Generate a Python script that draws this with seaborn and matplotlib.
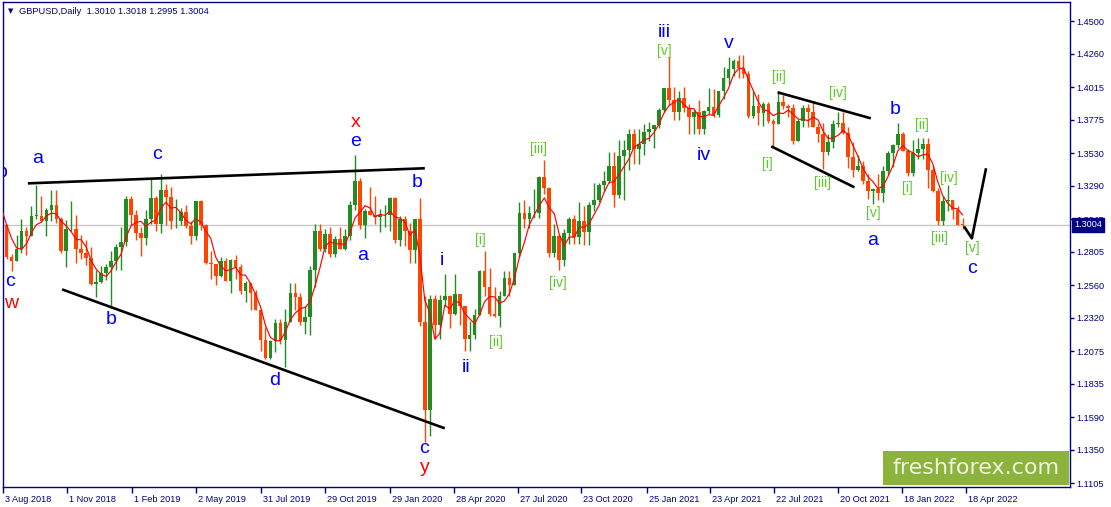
import pandas as pd
import numpy as np
import matplotlib
matplotlib.use('Agg')
import matplotlib.pyplot as plt
import matplotlib.dates as mdates
import matplotlib.transforms as mtransforms
from matplotlib.patches import Rectangle
import seaborn as sns

# GBPUSD, one bar per week (Mon 6 Aug 2018 .. Wed 13 Apr 2022), plotted mid-week
first_bar = '2018-08-08'
warmup_close = [1.3215, 1.3235, 1.3140, 1.3110, 1.3005]  # July 2018, only feeds the MA

weekly_high = [
    1.3010, 1.2790, 1.2930, 1.3045, 1.2990, 1.3145, 1.3298, 1.3215, 1.3130, 1.3260, 1.3260, 1.3060,
    1.3040, 1.3176, 1.3075, 1.2930, 1.2890, 1.2840, 1.2670, 1.2700, 1.2715,
    # 2019
    1.2815, 1.2865, 1.2990, 1.3215, 1.3215, 1.3110, 1.2985, 1.3110, 1.3350, 1.3215, 1.3380, 1.3305,
    1.3285, 1.3195, 1.3130, 1.3150, 1.3030, 1.3180, 1.3185, 1.3010, 1.2810, 1.2720, 1.2765, 1.2760,
    1.2755, 1.2785, 1.2720, 1.2595, 1.2580, 1.2525, 1.2385, 1.2250, 1.2155, 1.2310, 1.2310, 1.2385,
    1.2580, 1.2580, 1.2500, 1.2410, 1.2705, 1.3012, 1.3012, 1.2975, 1.2985, 1.2920, 1.2985, 1.2975,
    1.3180, 1.3515, 1.3350, 1.3120,
    # 2020
    1.3285, 1.3215, 1.3120, 1.3150, 1.3210, 1.3210, 1.3070, 1.3070, 1.3015, 1.3045, 1.3200, 1.2480,
    1.2485, 1.2485, 1.2485, 1.2645, 1.2485, 1.2645, 1.2495, 1.2410, 1.2295, 1.2385, 1.2670, 1.2815,
    1.2690, 1.2545, 1.2520, 1.2665, 1.2665, 1.2800, 1.3170, 1.3185, 1.3140, 1.3265, 1.3365, 1.3482,
    1.3285, 1.3010, 1.2930, 1.2975, 1.3060, 1.3080, 1.3175, 1.3140, 1.3175, 1.3315, 1.3310, 1.3400,
    1.3540, 1.3540, 1.3625, 1.3625,
    # 2021
    1.3705, 1.3705, 1.3710, 1.3745, 1.3760, 1.3740, 1.3865, 1.4010, 1.4241, 1.4015, 1.3990, 1.4015,
    1.3890, 1.3850, 1.3920, 1.3845, 1.4010, 1.4000, 1.3985, 1.4165, 1.4235, 1.4220, 1.4250, 1.4250,
    1.4135, 1.3990, 1.3965, 1.3905, 1.3910, 1.3785, 1.3985, 1.3955, 1.3895, 1.3890, 1.3785, 1.3885,
    1.3890, 1.3915, 1.3750, 1.3750, 1.3675, 1.3775, 1.3834, 1.3830, 1.3725, 1.3610, 1.3515, 1.3470,
    1.3375, 1.3275, 1.3375, 1.3440, 1.3545,
    # 2022
    1.3600, 1.3749, 1.3690, 1.3560, 1.3630, 1.3640, 1.3645, 1.3645, 1.3440, 1.3275, 1.3215, 1.3300,
    1.3190, 1.3145, 1.3055,
]
weekly_low = [
    1.2755, 1.2662, 1.2740, 1.2800, 1.2785, 1.2920, 1.3050, 1.3030, 1.2920, 1.3030, 1.3015, 1.2800,
    1.2696, 1.2960, 1.2725, 1.2750, 1.2710, 1.2560, 1.2477, 1.2580, 1.2600,
    # 2019
    1.2395, 1.2670, 1.2675, 1.2850, 1.3000, 1.2890, 1.2775, 1.2855, 1.3010, 1.2960, 1.2945, 1.3005,
    1.2975, 1.2980, 1.3000, 1.2980, 1.2865, 1.2890, 1.2965, 1.2715, 1.2605, 1.2560, 1.2620, 1.2590,
    1.2505, 1.2605, 1.2495, 1.2440, 1.2380, 1.2375, 1.2080, 1.2015, 1.2015, 1.2070, 1.2130, 1.1958,
    1.2290, 1.2380, 1.2270, 1.2205, 1.2195, 1.2550, 1.2810, 1.2805, 1.2770, 1.2770, 1.2825, 1.2820,
    1.2890, 1.3110, 1.2975, 1.2905,
    # 2020
    1.3075, 1.3010, 1.2955, 1.2990, 1.2960, 1.2870, 1.2850, 1.2850, 1.2725, 1.2725, 1.2260, 1.1410,
    1.1450, 1.2165, 1.2165, 1.2405, 1.2245, 1.2345, 1.2265, 1.2075, 1.2075, 1.2165, 1.2340, 1.2480,
    1.2335, 1.2330, 1.2250, 1.2480, 1.2480, 1.2565, 1.2770, 1.2980, 1.2980, 1.3055, 1.3055, 1.3230,
    1.2765, 1.2765, 1.2676, 1.2705, 1.2865, 1.2865, 1.2865, 1.2855, 1.2855, 1.3105, 1.3170, 1.3250,
    1.3310, 1.3135, 1.3200, 1.3190,
    # 2021
    1.3410, 1.3450, 1.3450, 1.3520, 1.3620, 1.3570, 1.3715, 1.3835, 1.3885, 1.3775, 1.3775, 1.3835,
    1.3670, 1.3670, 1.3670, 1.3670, 1.3820, 1.3800, 1.3800, 1.3930, 1.4040, 1.4100, 1.4085, 1.4085,
    1.3790, 1.3790, 1.3735, 1.3730, 1.3755, 1.3572, 1.3745, 1.3855, 1.3800, 1.3600, 1.3620, 1.3725,
    1.3725, 1.3720, 1.3610, 1.3412, 1.3520, 1.3570, 1.3725, 1.3675, 1.3425, 1.3355, 1.3400, 1.3305,
    1.3195, 1.3160, 1.3190, 1.3170, 1.3380,
    # 2022
    1.3430, 1.3570, 1.3545, 1.3360, 1.3360, 1.3485, 1.3490, 1.3275, 1.3245, 1.3000, 1.3000, 1.3105,
    1.3050, 1.3000, 1.2970,
]
weekly_close = [
    1.2765, 1.2740, 1.2830, 1.2960, 1.2925, 1.3070, 1.3070, 1.3030, 1.3110, 1.3150, 1.3050, 1.2815,
    1.2970, 1.2975, 1.2830, 1.2800, 1.2760, 1.2570, 1.2585, 1.2650, 1.2695,
    # 2019
    1.2740, 1.2845, 1.2875, 1.3195, 1.3075, 1.2945, 1.2905, 1.3045, 1.3200, 1.3010, 1.3260, 1.3210,
    1.3030, 1.3030, 1.3100, 1.2995, 1.2920, 1.3180, 1.3005, 1.2725, 1.2715, 1.2625, 1.2740, 1.2590,
    1.2745, 1.2695, 1.2520, 1.2575, 1.2500, 1.2380, 1.2155, 1.2025, 1.2150, 1.2280, 1.2160, 1.2290,
    1.2500, 1.2475, 1.2290, 1.2330, 1.2670, 1.2960, 1.2830, 1.2940, 1.2790, 1.2900, 1.2830, 1.2920,
    1.3150, 1.3325, 1.3000, 1.3105,
    # 2020
    1.3080, 1.3065, 1.3075, 1.3075, 1.3205, 1.2890, 1.3045, 1.2960, 1.2820, 1.3045, 1.2290, 1.1645,
    1.2460, 1.2265, 1.2450, 1.2480, 1.2350, 1.2495, 1.2405, 1.2165, 1.2195, 1.2345, 1.2665, 1.2550,
    1.2350, 1.2335, 1.2480, 1.2615, 1.2565, 1.2795, 1.3090, 1.3050, 1.3090, 1.3090, 1.3355, 1.3275,
    1.2795, 1.2920, 1.2745, 1.2945, 1.3050, 1.2915, 1.3035, 1.2950, 1.3150, 1.3190, 1.3300, 1.3330,
    1.3440, 1.3220, 1.3510, 1.3555,
    # 2021
    1.3670, 1.3565, 1.3600, 1.3685, 1.3705, 1.3735, 1.3845, 1.4010, 1.3925, 1.3835, 1.3935, 1.3865,
    1.3800, 1.3835, 1.3710, 1.3840, 1.3870, 1.3815, 1.3985, 1.4085, 1.4150, 1.4210, 1.4160, 1.4110,
    1.3805, 1.3880, 1.3825, 1.3890, 1.3765, 1.3745, 1.3905, 1.3875, 1.3865, 1.3620, 1.3765, 1.3865,
    1.3830, 1.3725, 1.3675, 1.3540, 1.3615, 1.3745, 1.3750, 1.3680, 1.3500, 1.3410, 1.3440, 1.3330,
    1.3250, 1.3265, 1.3235, 1.3400, 1.3530,
    # 2022
    1.3590, 1.3675, 1.3550, 1.3385, 1.3530, 1.3560, 1.3595, 1.3410, 1.3255, 1.3035, 1.3180, 1.3185,
    1.3115, 1.3005, 1.3004,
]

price_ticks = [1.4500, 1.4260, 1.4015, 1.3775, 1.3530, 1.3290, 1.3045, 1.2805,
               1.2560, 1.2320, 1.2075, 1.1835, 1.1590, 1.1350, 1.1105]
date_ticks = ['2018-08-03', '2018-11-01', '2019-02-01', '2019-05-02', '2019-07-31', '2019-10-29',
              '2020-01-29', '2020-04-28', '2020-07-27', '2020-10-23', '2021-01-25', '2021-04-23',
              '2021-07-22', '2021-10-20', '2022-01-18', '2022-04-18']
date_labels = ['3 Aug 2018', '1 Nov 2018', '1 Feb 2019', '2 May 2019', '31 Jul 2019', '29 Oct 2019',
               '29 Jan 2020', '28 Apr 2020', '27 Jul 2020', '23 Oct 2020', '25 Jan 2021', '23 Apr 2021',
               '22 Jul 2021', '20 Oct 2021', '18 Jan 2022', '18 Apr 2022']

last_price = 1.3004
last_bar_text = 'GBPUSD,Daily  1.3010 1.3018 1.2995 1.3004'

# wave labels: (date, price, text)
blue_labels = [
    ('2018-08-02', 1.3390, 'b'), ('2018-09-20', 1.3493, 'a'), ('2019-03-07', 1.3522, 'c'),
    ('2018-08-13', 1.2589, 'c'), ('2019-01-02', 1.2310, 'b'), ('2019-08-20', 1.1861, 'd'),
    ('2019-12-12', 1.3618, 'e'), ('2020-03-07', 1.3317, 'b'), ('2019-12-22', 1.2780, 'a'),
    ('2020-03-17', 1.1362, 'c'), ('2020-04-11', 1.2743, 'i'), ('2020-05-15', 1.1957, 'ii'),
    ('2021-02-17', 1.4419, 'iii'), ('2021-04-14', 1.3515, 'iv'), ('2021-05-19', 1.4338, 'v'),
    ('2021-12-08', 1.2890, 'a'), ('2022-01-08', 1.3853, 'b'), ('2022-04-26', 1.2685, 'c'),
]
red_labels = [
    ('2018-08-14', 1.2427, 'w'), ('2019-12-12', 1.3758, 'x'), ('2020-03-18', 1.1222, 'y'),
]
green_labels = [
    ('2020-06-04', 1.2890, '[i]'), ('2020-06-26', 1.2141, '[ii]'), ('2020-08-25', 1.3559, '[iii]'),
    ('2020-09-21', 1.2574, '[iv]'), ('2021-02-18', 1.4280, '[v]'),
    ('2021-07-12', 1.3449, '[i]'), ('2021-07-29', 1.4088, '[ii]'), ('2021-09-28', 1.3309, '[iii]'),
    ('2021-10-20', 1.3971, '[iv]'), ('2021-12-08', 1.3089, '[v]'),
    ('2022-01-26', 1.3273, '[i]'), ('2022-02-15', 1.3736, '[ii]'), ('2022-03-11', 1.2905, '[iii]'),
    ('2022-03-25', 1.3346, '[iv]'), ('2022-04-26', 1.2832, '[v]'),
]

# hand-drawn trend lines: (dates, prices)
trend_lines = [
    (['2018-09-07', '2020-03-18'], [1.3309, 1.3420]),
    (['2018-10-25', '2020-04-15'], [1.2530, 1.1509]),
    (['2021-07-27', '2021-12-05'], [1.3978, 1.3787]),
    (['2021-07-18', '2021-11-12'], [1.3581, 1.3280]),
    (['2022-04-15', '2022-04-26', '2022-05-16'], [1.2993, 1.2905, 1.3420]),
]

navy = '#000080'
bull = '#228b22'
bear = '#ff4500'

sns.set_style('white')
plt.rcParams['font.family'] = ['Liberation Sans', 'DejaVu Sans']

# build OHLC frame
n = len(weekly_close)
df = pd.DataFrame({
    'date': pd.date_range(first_bar, periods=n, freq='7D'),
    'high': weekly_high[:n],
    'low': weekly_low[:n],
    'close': weekly_close,
})
df['open'] = [warmup_close[-1]] + weekly_close[:-1]
df['x'] = mdates.date2num(df['date'])

# 20-day style moving average (4 weekly closes), warmed up with July 2018
all_close = pd.Series(warmup_close + weekly_close)
all_dates = pd.date_range(pd.Timestamp(first_bar) - pd.Timedelta(days=7 * len(warmup_close)),
                          periods=len(all_close), freq='7D')
ma = pd.DataFrame({'date': mdates.date2num(all_dates), 'ma': all_close.rolling(4, min_periods=1).mean()})

fig = plt.figure(figsize=(11.11, 5.07), dpi=100)
ax = fig.add_axes([3 / 1111, 20 / 507, 1067 / 1111, 485 / 507])

x0 = mdates.date2num(pd.Timestamp('2018-08-03'))
ax.set_xlim(x0, x0 + 1500)
ax.set_ylim(1.10777, 1.46418)

ax.axhline(last_price, color='#c8c8c8', lw=1, zorder=0)

up = df['close'] >= df['open']
colors = np.where(up, bull, bear)
body_lo = np.minimum(df['open'], df['close'])
body_hi = np.maximum(df['open'], df['close'])
wick_lo = np.minimum(df['low'], body_lo)
wick_hi = np.maximum(df['high'], body_hi)
ax.vlines(df['x'], wick_lo, wick_hi, colors=colors, lw=1.0, zorder=2)
ax.bar(df['x'], np.maximum(body_hi - body_lo, 0.0004), bottom=body_lo, width=5.2,
       color=colors, linewidth=0, zorder=2)

sns.lineplot(data=ma, x='date', y='ma', color='#ff0000', lw=0.85, ax=ax, zorder=3)

for xs, ys in trend_lines:
    ax.plot(mdates.date2num(pd.to_datetime(xs)), ys, color='black', lw=1.9,
            solid_capstyle='butt', zorder=4)

for d, p, t in blue_labels:
    ax.text(mdates.date2num(pd.Timestamp(d)), p, t, color='#0000ff', fontsize=14,
            ha='center', va='center', zorder=5, clip_on=True)
for d, p, t in red_labels:
    ax.text(mdates.date2num(pd.Timestamp(d)), p, t, color='#ff0000', fontsize=14,
            ha='center', va='center', zorder=5)
for d, p, t in green_labels:
    ax.text(mdates.date2num(pd.Timestamp(d)), p, t, color='#5cc82a', fontsize=10,
            ha='center', va='center', zorder=5)

# axes styling
for s in ax.spines.values():
    s.set_color(navy)
    s.set_linewidth(1)
ax.set_xlabel('')
ax.set_ylabel('')
ax.yaxis.tick_right()
ax.set_yticks(price_ticks)
ax.set_yticklabels([f'{v:.4f}' for v in price_ticks])
ax.set_xticks(mdates.date2num(pd.to_datetime(date_ticks)))
ax.set_xticklabels(date_labels)
ax.tick_params(axis='y', right=True, left=False, direction='out', length=3, width=1,
               colors=navy, labelsize=6.6, pad=1.5)
ax.tick_params(axis='x', bottom=True, direction='out', length=4.5, width=1,
               colors=navy, labelsize=6.6, pad=1)
shift = mtransforms.ScaledTranslation(2 / 100, 0, fig.dpi_scale_trans)
for lbl in ax.get_xticklabels():
    lbl.set_horizontalalignment('left')
    lbl.set_transform(lbl.get_transform() + shift)

# current price marker on the scale
ax.annotate(f'{last_price:.4f}', xy=(1.0, last_price), xycoords=('axes fraction', 'data'),
            xytext=(3, 0), textcoords='offset points', ha='left', va='center',
            fontsize=6.6, color='white', annotation_clip=False,
            bbox=dict(boxstyle='square,pad=0.25', fc=navy, ec=navy))

# chart caption
fig.text(8 / 1111, 1 - 11 / 507, '\u25bc', fontsize=5, color=navy, va='center', family='DejaVu Sans')
fig.text(19 / 1111, 1 - 11 / 507, last_bar_text, fontsize=6.7, color=navy, va='center')

# watermark
fig.patches.append(Rectangle((883 / 1111, 22 / 507), 186 / 1111, 34 / 507,
                             transform=fig.transFigure, facecolor='#8cb43c', edgecolor='none', zorder=10))
fig.text(976 / 1111, 39 / 507, 'freshforex.com', fontsize=16, color='#eef3e0',
         ha='center', va='center', family='DejaVu Sans', zorder=11)

plt.savefig('out.png', dpi=100, facecolor='white')
plt.close()
